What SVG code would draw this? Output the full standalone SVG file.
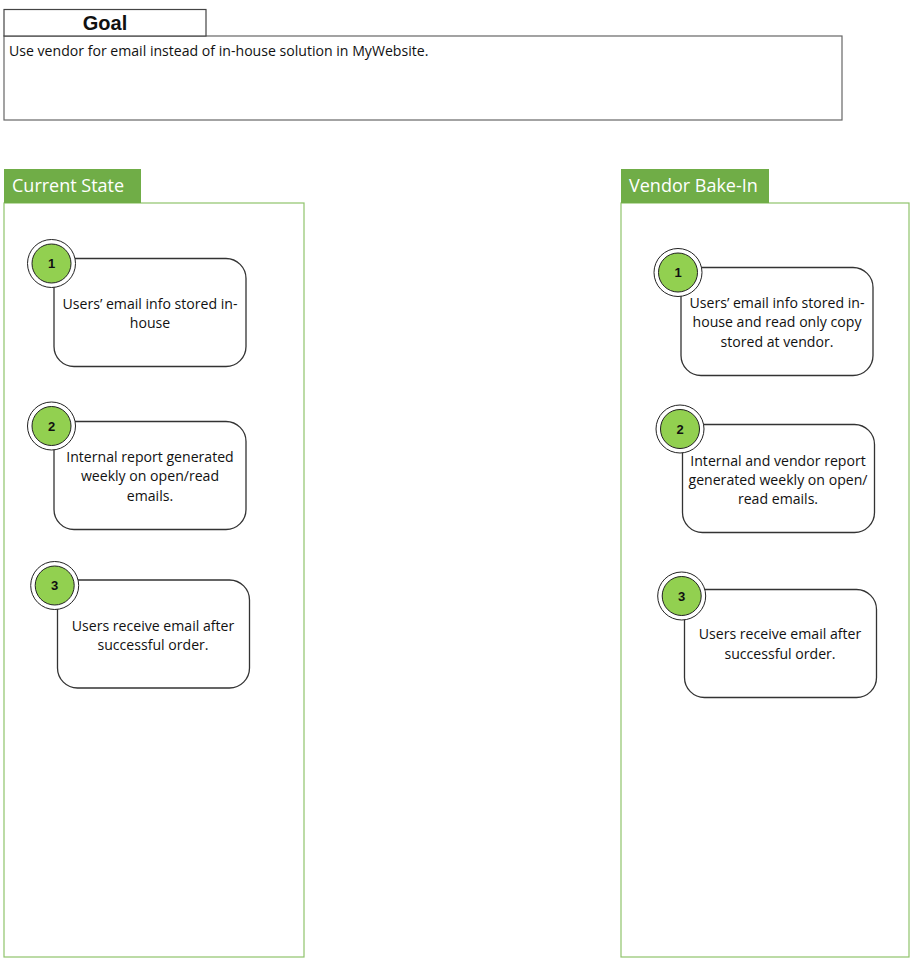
<svg xmlns="http://www.w3.org/2000/svg" width="911" height="959" viewBox="0 0 911 959">
<style>
.t{font-family:"Open Sans","Liberation Sans",Arial,sans-serif;fill:#111;}
.nt{font-size:14.1px;text-anchor:middle;}
.num{font-family:"Liberation Sans",Arial,sans-serif;font-size:13px;font-weight:bold;text-anchor:middle;fill:#111;}
.card{fill:#fff;stroke:#333;stroke-width:1.3;}
.ring{fill:#fff;stroke:#222;stroke-width:1;}
.dot{fill:#92d050;stroke:#222;stroke-width:1;}
.hdr{fill:#70ad47;}
.hdrt{font-family:"Open Sans","Liberation Sans",Arial,sans-serif;font-size:18px;fill:#fff;}
.panel{fill:#fff;stroke:#8fc36b;stroke-width:1.2;}
</style>
<rect width="911" height="959" fill="#fff"/>
<g id="goal">
<rect x="4" y="36" width="838" height="84" fill="#fff" stroke="#666" stroke-width="1.2"/>
<rect x="4" y="9.5" width="202" height="26.5" fill="#fff" stroke="#444" stroke-width="1.2"/>
<text x="105" y="30" font-family="Liberation Sans,Arial,sans-serif" fill="#111" font-size="20" font-weight="bold" text-anchor="middle">Goal</text>
<text x="9" y="56" class="t" font-size="14.1">Use vendor for email instead of in-house solution in MyWebsite.</text>
</g>
<g id="current-state">
<rect x="4" y="203" width="300" height="754" class="panel"/>
<rect x="4" y="169" width="137" height="34" class="hdr"/>
<text x="12" y="191.5" class="hdrt">Current State</text>
</g>
<g id="vendor-bake-in">
<rect x="621" y="203" width="288" height="754" class="panel"/>
<rect x="621" y="169" width="148" height="34" class="hdr"/>
<text x="629" y="191.5" class="hdrt">Vendor Bake-In</text>
</g>
<g id="cs1">
<rect x="54" y="258.5" width="192" height="108" rx="20" class="card"/>
<circle cx="51.5" cy="263.5" r="24" class="ring"/>
<circle cx="51.5" cy="263.5" r="19.5" class="dot"/>
<text x="51.5" y="268" class="num">1</text>
<text x="150" y="308.5" class="t nt">Users’ email info stored in-</text>
<text x="150" y="327.5" class="t nt">house</text>
</g>
<g id="cs2">
<rect x="54" y="421.5" width="192" height="108" rx="20" class="card"/>
<circle cx="51.5" cy="426" r="24" class="ring"/>
<circle cx="51.5" cy="426" r="19.5" class="dot"/>
<text x="51.5" y="430.5" class="num">2</text>
<text x="150" y="461.5" class="t nt">Internal report generated</text>
<text x="150" y="481" class="t nt">weekly on open/read</text>
<text x="150" y="500.5" class="t nt">emails.</text>
</g>
<g id="cs3">
<rect x="57.5" y="580" width="192" height="108" rx="20" class="card"/>
<circle cx="54.7" cy="585.5" r="24" class="ring"/>
<circle cx="54.7" cy="585.5" r="19.5" class="dot"/>
<text x="54.7" y="590" class="num">3</text>
<text x="153" y="630.5" class="t nt">Users receive email after</text>
<text x="153" y="649.5" class="t nt">successful order.</text>
</g>
<g id="vb1">
<rect x="681" y="267.5" width="192" height="108" rx="20" class="card"/>
<circle cx="678" cy="272.5" r="24" class="ring"/>
<circle cx="678" cy="272.5" r="19.5" class="dot"/>
<text x="678" y="277" class="num">1</text>
<text x="777" y="307.5" class="t nt">Users’ email info stored in-</text>
<text x="777" y="327" class="t nt">house and read only copy</text>
<text x="777" y="346.5" class="t nt">stored at vendor.</text>
</g>
<g id="vb2">
<rect x="682.5" y="424.5" width="192" height="108" rx="20" class="card"/>
<circle cx="680" cy="429" r="24" class="ring"/>
<circle cx="680" cy="429" r="19.5" class="dot"/>
<text x="680" y="433.5" class="num">2</text>
<text x="778" y="465.5" class="t nt">Internal and vendor report</text>
<text x="778" y="484.5" class="t nt">generated weekly on open/</text>
<text x="778" y="503.5" class="t nt">read emails.</text>
</g>
<g id="vb3">
<rect x="684.5" y="589.5" width="192" height="108" rx="20" class="card"/>
<circle cx="681.7" cy="596" r="24" class="ring"/>
<circle cx="681.7" cy="596" r="19.5" class="dot"/>
<text x="681.7" y="600.5" class="num">3</text>
<text x="780" y="639" class="t nt">Users receive email after</text>
<text x="780" y="658.5" class="t nt">successful order.</text>
</g>
<g id="connectors"></g>
</svg>
